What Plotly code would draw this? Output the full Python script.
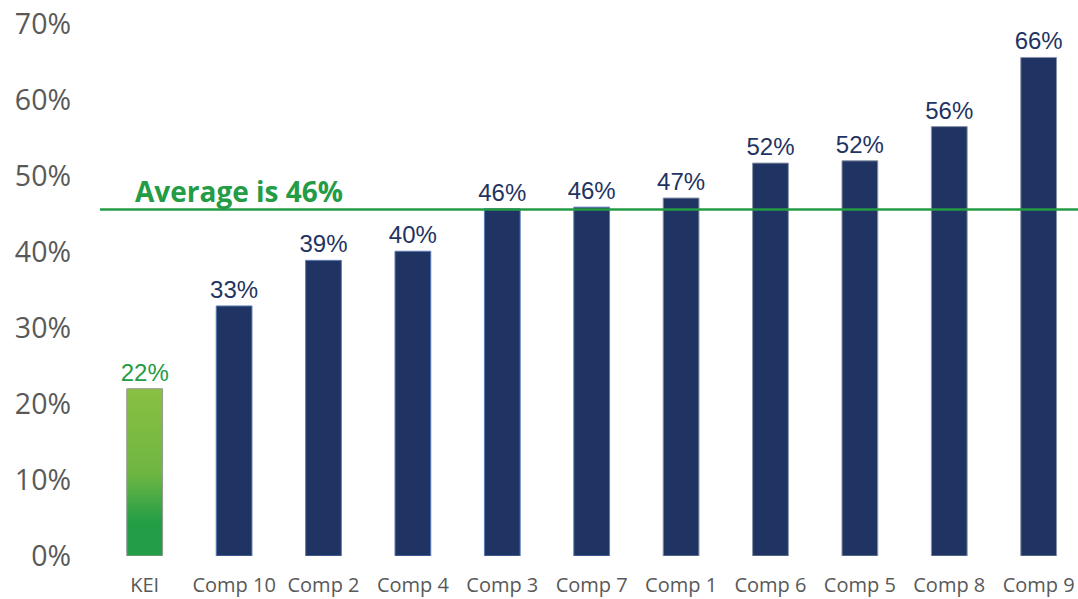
import plotly.graph_objects as go

# Data
categories = ["KEI", "Comp 10", "Comp 2", "Comp 4", "Comp 3", "Comp 7",
              "Comp 1", "Comp 6", "Comp 5", "Comp 8", "Comp 9"]
values = [22.0, 32.9, 38.9, 40.1, 45.7, 45.9, 47.1, 51.7, 52.0, 56.5, 65.6]
labels = ["22%", "33%", "39%", "40%", "46%", "46%", "47%", "52%", "52%", "56%", "66%"]
average_value = 45.6
average_label = "Average is 46%"
y_ticks = [0, 10, 20, 30, 40, 50, 60, 70]
y_tick_text = ["0%", "10%", "20%", "30%", "40%", "50%", "60%", "70%"]

NAVY = "#1F3462"
GREEN = "#249B45"
GRAY = "#595959"


def lerp_color(c1, c2, t):
    return "rgb(%d,%d,%d)" % tuple(round(a + (b - a) * t) for a, b in zip(c1, c2))


def kei_color(frac):
    """Gradient colour for KEI bar, frac = 0 at bottom, 1 at top."""
    dark = (35, 158, 71)
    mid = (112, 182, 66)
    light = (136, 192, 66)
    if frac < 0.2:
        return lerp_color(dark, dark, 0)
    if frac < 0.5:
        return lerp_color(dark, mid, (frac - 0.2) / 0.3)
    return lerp_color(mid, light, (frac - 0.5) / 0.5)


fig = go.Figure()

# KEI gradient bar built from overlapping stacked segments
n_seg = 60
kei_val = values[0]
seg_h = kei_val / n_seg
bases = [i * seg_h for i in range(n_seg)]
fig.add_trace(go.Bar(
    x=[categories[0]] * n_seg,
    y=[min(seg_h * 3, kei_val - b) for b in bases],
    base=bases,
    marker=dict(color=[kei_color((i + 0.5) / n_seg) for i in range(n_seg)],
                line=dict(width=0)),
    width=0.4,
    hoverinfo="skip",
    showlegend=False,
))

bar_colors = ["rgba(0,0,0,0)"] + [NAVY] * (len(categories) - 1)
line_colors = ["#9A9A9A"] + ["#5B7DB8"] * 5 + ["#8A93A8"] * 5
text_colors = [GREEN] + [NAVY] * (len(categories) - 1)

fig.add_trace(go.Bar(
    x=categories,
    y=values,
    width=0.4,
    marker=dict(color=bar_colors, line=dict(color=line_colors, width=1)),
    text=labels,
    textposition="outside",
    constraintext="none",
    textfont=dict(family="Liberation Sans, Arial", size=24, color=text_colors),
    cliponaxis=False,
    showlegend=False,
))

# Average line
fig.add_hline(y=average_value, line=dict(color=GREEN, width=2.5))
fig.add_annotation(
    x=0.034, xref="paper", y=average_value, yref="y",
    text="<b>" + average_label + "</b>", showarrow=False,
    xanchor="left", yanchor="bottom", yshift=-3,
    font=dict(family="Open Sans", size=28, color=GREEN),
)

fig.update_layout(
    width=1078, height=599,
    paper_bgcolor="white", plot_bgcolor="white",
    barmode="overlay",
    margin=dict(l=100, r=0, t=24, b=43),
)
fig.update_xaxes(
    range=[-0.5, 10.44],
    automargin=False,
    showgrid=False, showline=False, zeroline=False,
    tickfont=dict(family="Open Sans", size=20, color=GRAY),
    ticklabelstandoff=15,
)
fig.update_yaxes(
    range=[0, 70],
    automargin=False,
    tickvals=y_ticks, ticktext=y_tick_text,
    showgrid=False, showline=False, zeroline=False,
    tickfont=dict(family="Open Sans", size=28.5, color=GRAY),
    ticklabelstandoff=28,
)

# drop the default page margin so the figure fills the window
fig.write_html("out.html", config={"displayModeBar": False},
               post_script="document.body.style.margin='0';")
